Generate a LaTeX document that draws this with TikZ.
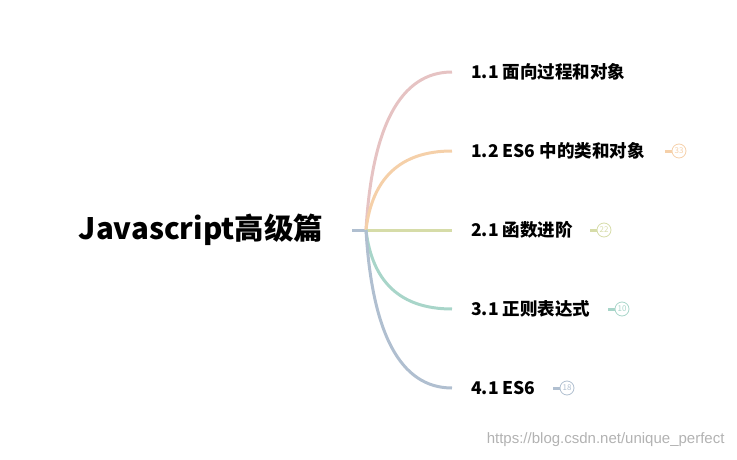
\documentclass[tikz,border=0pt]{standalone}
\usepackage{fontspec}
\setmainfont{Noto Sans CJK SC}
\newfontfamily\wm{Liberation Sans}
\definecolor{cA}{HTML}{E6C3C3}
\definecolor{cB}{HTML}{F5D0A9}
\definecolor{cC}{HTML}{D6DCA8}
\definecolor{cD}{HTML}{A8D5C9}
\definecolor{cE}{HTML}{B0BFD0}
\begin{document}
\begin{tikzpicture}[x=1pt,y=-1pt,
  br/.style={line width=3pt},
  lab/.style={anchor=west,font=\fontsize{17.5}{20}\selectfont\bfseries,inner sep=0pt},
  badge/.style={circle,draw,line width=0.8pt,minimum size=14pt,inner sep=0pt,font=\fontsize{8}{8}\selectfont}]
\useasboundingbox (0,0) rectangle (737,460);
\node[font=\fontsize{29.5}{32}\selectfont\bfseries] (root) at (201,230) {Javascript高级篇};
\coordinate (o) at (366,230);
\draw[cE,line width=3pt] (352,230) -- (o);
\foreach \y/\c/\n in {72/cA/a,151/cB/b,230/cC/c,309/cD/d,388/cE/e}{
  \coordinate (e\n) at (452,\y);
  \draw[\c,br] (o) .. controls ({372},{\y+(230-\y)*0.35}) and (400,\y) .. (e\n);
}
\node[lab] (la) at (471,72) {1.1 面向过程和对象};
\node[lab] (lb) at (471,151) {1.2 ES6 中的类和对象};
\node[lab] (lc) at (471,230) {2.1 函数进阶};
\node[lab] (ld) at (471,309) {3.1 正则表达式};
\node[lab] (le) at (471,388) {4.1 ES6};
\foreach \x/\y/\c/\t/\n in {679/151/cB/33/b,604/230/cC/22/c,622/309/cD/10/d,567/388/cE/18/e}{
  \node[badge,draw=\c,text=\c] (b\n) at (\x,\y) {\t};
  \coordinate (s\n) at (\x-14,\y);
  \draw[\c,line width=3pt] (s\n) -- (b\n.west);
}
\node[anchor=east,text=gray!60,font=\wm\fontsize{15}{16}\selectfont] (wm) at (728,440) {https://blog.csdn.net/unique\_perfect};
\end{tikzpicture}
\end{document}
